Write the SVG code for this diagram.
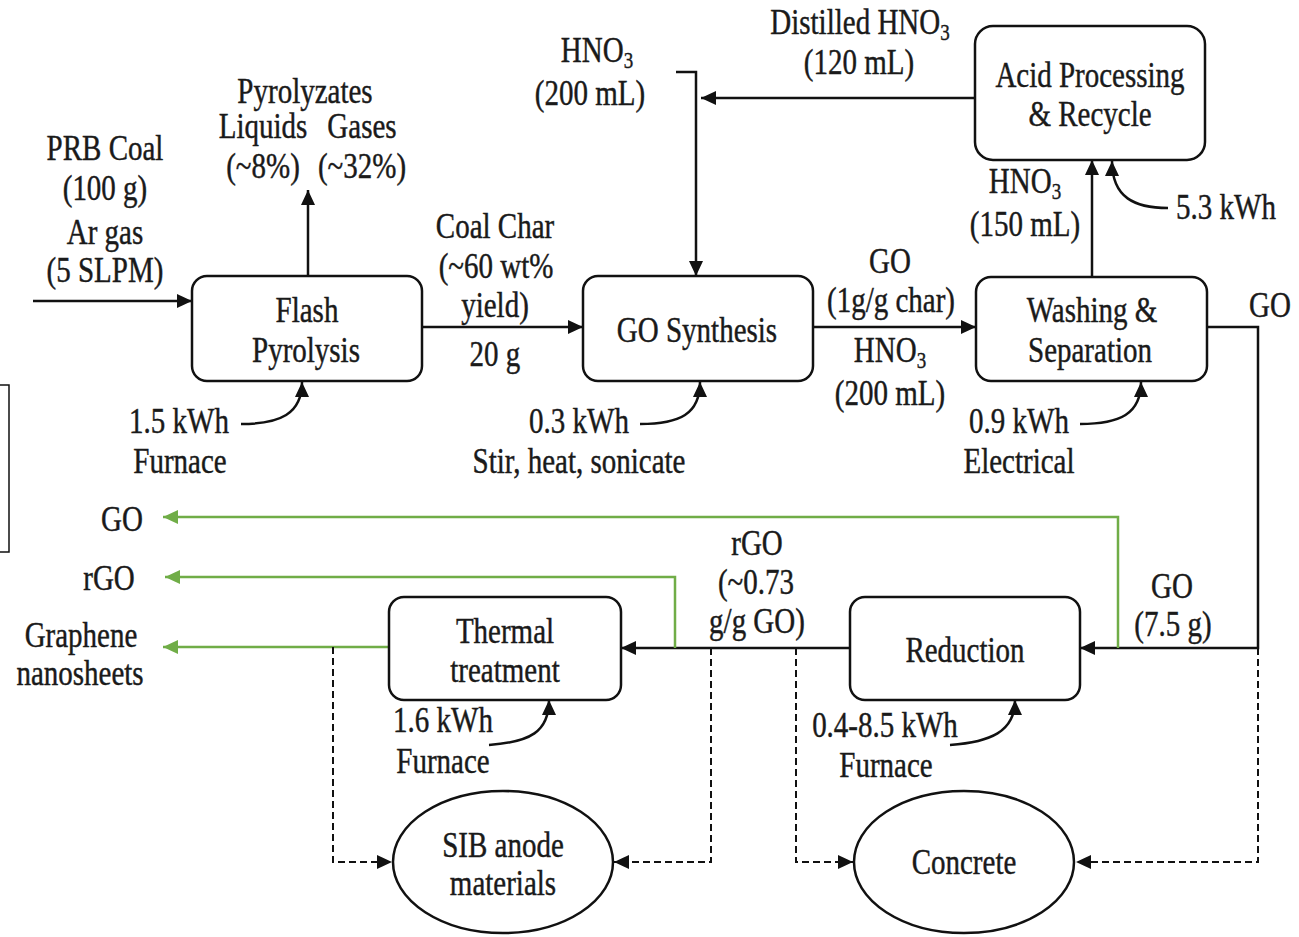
<svg xmlns="http://www.w3.org/2000/svg" width="1299" height="937" viewBox="0 0 1299 937">
<style>
.t{font-family:'Liberation Serif','Times New Roman',serif;font-size:29px;fill:#1a1a1a;stroke:#1a1a1a;stroke-width:0.35;text-anchor:middle;transform-box:fill-box;transform-origin:center;transform:scaleY(1.25)}
.s{text-anchor:start}
.box{fill:#fff;stroke:#111;stroke-width:2.5}
.ln{fill:none;stroke:#111;stroke-width:2.5}
.gr{fill:none;stroke:#70AD47;stroke-width:2.5}
.da{fill:none;stroke:#111;stroke-width:2;stroke-dasharray:7 4}
.sub{font-size:19px}
</style>
<defs>
<marker id="a" markerWidth="16" markerHeight="14" refX="15" refY="7" orient="auto" markerUnits="userSpaceOnUse"><path d="M0,0 L15,7 L0,14 z" fill="#111"/></marker>
<marker id="g" markerWidth="16" markerHeight="14" refX="15" refY="7" orient="auto" markerUnits="userSpaceOnUse"><path d="M0,0 L15,7 L0,14 z" fill="#70AD47"/></marker>
</defs>
<rect width="1299" height="937" fill="#fff"/>
<path d="M0,385 H9 V552 H0" fill="none" stroke="#111" stroke-width="1.5"/>

<g id="connectors">
<path class="ln" d="M33,301 H192" marker-end="url(#a)"/>
<path class="ln" d="M308,276 V190" marker-end="url(#a)"/>
<path class="ln" d="M422,327 H583" marker-end="url(#a)"/>
<path class="ln" d="M676,72 H696 V276" marker-end="url(#a)"/>
<path class="ln" d="M975,98 H701" marker-end="url(#a)"/>
<path class="ln" d="M813,327 H976" marker-end="url(#a)"/>
<path class="ln" d="M1092,277 V160" marker-end="url(#a)"/>
<path class="ln" d="M1168,208 C1135,208 1112,198 1112,161" marker-end="url(#a)"/>
<path class="ln" d="M1207,327 H1258 V648 H1080" marker-end="url(#a)"/>
<path class="ln" d="M850,648 H621" marker-end="url(#a)"/>
<path class="gr" d="M1118,648 V517 H163" marker-end="url(#g)"/>
<path class="gr" d="M675,648 V577 H165" marker-end="url(#g)"/>
<path class="gr" d="M389,647 H163" marker-end="url(#g)"/>
<path class="da" d="M333,647 V862 H392" marker-end="url(#a)"/>
<path class="da" d="M711,648 V862 H614" marker-end="url(#a)"/>
<path class="da" d="M796,648 V862 H853" marker-end="url(#a)"/>
<path class="da" d="M1258,648 V862 H1076" marker-end="url(#a)"/>
<path class="ln" d="M241,424 C280,424 302,414 302,382" marker-end="url(#a)"/>
<path class="ln" d="M640,424 C680,424 700,414 700,382" marker-end="url(#a)"/>
<path class="ln" d="M1080,424 C1120,424 1141,414 1141,382" marker-end="url(#a)"/>
<path class="ln" d="M489,745 C530,742 549,732 549,700" marker-end="url(#a)"/>
<path class="ln" d="M950,745 C990,742 1015,732 1015,700" marker-end="url(#a)"/>
</g>

<g id="flash-pyrolysis">
<rect class="box" x="192" y="276" width="230" height="105" rx="15"/>
<text class="t" x="307" y="320">Flash</text>
<text class="t" x="306" y="360">Pyrolysis</text>
</g>
<g id="go-synthesis">
<rect class="box" x="583" y="276" width="230" height="105" rx="15"/>
<text class="t" x="697" y="340">GO Synthesis</text>
</g>
<g id="washing-separation">
<rect class="box" x="976" y="277" width="231" height="104" rx="15"/>
<text class="t" x="1092" y="320">Washing &amp;</text>
<text class="t" x="1090" y="360">Separation</text>
</g>
<g id="acid-processing">
<rect class="box" x="975" y="26" width="230" height="134" rx="18"/>
<text class="t" x="1090" y="85">Acid Processing</text>
<text class="t" x="1090" y="124">&amp; Recycle</text>
</g>
<g id="thermal-treatment">
<rect class="box" x="389" y="597" width="232" height="103" rx="15"/>
<text class="t" x="505" y="641">Thermal</text>
<text class="t" x="505" y="680">treatment</text>
</g>
<g id="reduction">
<rect class="box" x="850" y="597" width="230" height="103" rx="15"/>
<text class="t" x="965" y="660">Reduction</text>
</g>
<g id="sib-anode">
<ellipse class="box" cx="503" cy="862" rx="110" ry="71"/>
<text class="t" x="503" y="855">SIB anode</text>
<text class="t" x="503" y="893">materials</text>
</g>
<g id="concrete">
<ellipse class="box" cx="964" cy="862" rx="110" ry="71"/>
<text class="t" x="964" y="872">Concrete</text>
</g>

<g id="labels">
<text class="t" x="105" y="158">PRB Coal</text>
<text class="t" x="105" y="198">(100 g)</text>
<text class="t" x="105" y="242">Ar gas</text>
<text class="t" x="105" y="280">(5 SLPM)</text>
<text class="t" x="305" y="101">Pyrolyzates</text>
<text class="t" x="263" y="136">Liquids</text>
<text class="t" x="362" y="136">Gases</text>
<text class="t" x="263" y="176">(~8%)</text>
<text class="t" x="362" y="176">(~32%)</text>
<text class="t" x="495" y="236">Coal Char</text>
<text class="t" x="496" y="276">(~60 wt%</text>
<text class="t" x="495" y="315">yield)</text>
<text class="t" x="495" y="364">20 g</text>
<text class="t" x="179" y="431">1.5 kWh</text>
<text class="t" x="180" y="471">Furnace</text>
<text class="t" x="597" y="60">HNO<tspan class="sub" dy="5">3</tspan></text>
<text class="t" x="590" y="103">(200 mL)</text>
<text class="t" x="860" y="32">Distilled HNO<tspan class="sub" dy="5">3</tspan></text>
<text class="t" x="859" y="72">(120 mL)</text>
<text class="t" x="579" y="431">0.3 kWh</text>
<text class="t" x="579" y="471">Stir, heat,  sonicate</text>
<text class="t" x="890" y="271">GO</text>
<text class="t" x="891" y="310">(1g/g char)</text>
<text class="t" x="890" y="360">HNO<tspan class="sub" dy="5">3</tspan></text>
<text class="t" x="890" y="403">(200 mL)</text>
<text class="t" x="1025" y="191">HNO<tspan class="sub" dy="5">3</tspan></text>
<text class="t" x="1025" y="234">(150 mL)</text>
<text class="t" x="1226" y="217">5.3 kWh</text>
<text class="t s" x="1249" y="315">GO</text>
<text class="t" x="1019" y="431">0.9 kWh</text>
<text class="t" x="1019" y="471">Electrical</text>
<text class="t" x="122" y="529">GO</text>
<text class="t" x="109" y="588">rGO</text>
<text class="t" x="81" y="645">Graphene</text>
<text class="t" x="80" y="683">nanosheets</text>
<text class="t" x="443" y="730">1.6 kWh</text>
<text class="t" x="443" y="771">Furnace</text>
<text class="t" x="757" y="553">rGO</text>
<text class="t" x="756" y="592">(~0.73</text>
<text class="t" x="757" y="631">g/g GO)</text>
<text class="t" x="1172" y="596">GO</text>
<text class="t" x="1173" y="634">(7.5 g)</text>
<text class="t" x="885" y="735">0.4-8.5 kWh</text>
<text class="t" x="886" y="775">Furnace</text>
</g>
</svg>
